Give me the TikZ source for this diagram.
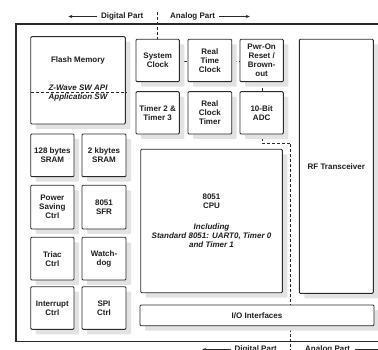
\documentclass[tikz,border=0pt]{standalone}
\usepackage{fontspec}
\setmainfont{Liberation Sans}
\usetikzlibrary{shadows,arrows.meta}

\definecolor{edge}{HTML}{2A2A2A}
\definecolor{shade}{HTML}{E2E2E2}
\definecolor{ink}{HTML}{1E1E1E}

% block given by its corners: name, x1, y1, x2, y2, text
\newcommand\chipblock[6]{%
  \node[blk, minimum width={(#4-#2)*1pt}, minimum height={(#5-#3)*1pt}]
    (#1) at ({(#2+#4)/2},{(#3+#5)/2}) {#6};}

\begin{document}
\begin{tikzpicture}[x=1pt,y=-1pt,
  font=\fontsize{8}{9}\selectfont\bfseries, text=ink,
  blk/.style={draw=edge, line width=0.9pt, fill=white, rounded corners=1pt,
    align=center, inner sep=0pt, outer sep=0pt,
    drop shadow={shadow xshift=5pt, shadow yshift=-5pt, fill=shade, opacity=1}},
  divider/.style={draw=edge, line width=0.8pt, dash pattern=on 3pt off 2pt},
  frame/.style={draw=edge, line width=1.3pt},
  side/.style={inner sep=0pt},
  arr/.style={draw=edge, line width=0.8pt, -{Stealth[length=4pt,width=3.2pt]}}]

\fill[white] (0,0) rectangle (378,350);
\useasboundingbox (0,0) rectangle (378,350);

% chip outline
\draw[frame] (16,24) rectangle (384,341.7);

% boundary between digital and analog parts
\coordinate (dtopend) at (157.3,12.5);
\coordinate (dbotend) at (290.7,354);
\draw[divider] (dtopend) -- (157.3,61) -- (262,61) -- (262,143) -- (290.7,143) -- (dbotend);

% part labels, top
\node[side, anchor=east] (digtop) at (143.5,16.5) {Digital Part};
\node[side, anchor=west] (anatop) at (170,16.5) {Analog Part};
\draw[arr] ([xshift=-3.5pt]digtop.west) -- ++(-29,0) coordinate (digtoptip);
\draw[arr] ([xshift=3.5pt]anatop.east) -- ++(31,0) coordinate (anatoptip);

% part labels, bottom
\node[side, anchor=east] (digbot) at (277,349.5) {Digital Part};
\node[side, anchor=west] (anabot) at (305,349.5) {Analog Part};
\draw[arr] ([xshift=-3pt]digbot.west) -- ++(-29,0) coordinate (digbottip);
\draw[arr] ([xshift=5pt]anabot.east) -- ++(31,0) coordinate (anabottip);

% memory
\chipblock{flash}{30.7}{36.7}{125.3}{124}{}
\node[side] (flashtitle) at (78,60) {Flash Memory};
\draw[divider] ([xshift=0.5pt]flash.west |- 0,92.3) -- ([xshift=1.5pt]flash.east |- 0,92.3);
\node[side, align=center] (flashsw) at (78,93.3)
  {\itshape Z-Wave SW API\\\itshape Application SW};

% clocks and converters
\chipblock{sysclk}{136}{39.3}{179.3}{81.7}{System\\Clock}
\chipblock{rtc}{188}{39.3}{231.7}{81.7}{Real\\Time\\Clock}
\chipblock{pwr}{240}{39.3}{283.3}{81.7}{Pwr-On\\Reset /\\Brown-\\out}
\chipblock{tmr}{136}{91.7}{179.3}{134}{Timer 2 \&\\Timer 3}
\chipblock{rct}{188}{91.7}{231.7}{134}{Real\\Clock\\Timer}
\chipblock{adc}{240}{91.7}{283.3}{134}{10-Bit\\ADC}

% radio
\chipblock{rf}{299.3}{39.3}{373.3}{293.3}{RF Transceiver}

% left column
\chipblock{sram}{30.7}{134}{74}{176.7}{128 bytes\\SRAM}
\chipblock{xram}{82}{134}{126}{176.7}{2 kbytes\\SRAM}
\chipblock{psave}{30.7}{185.3}{74}{229}{Power\\Saving\\Ctrl}
\chipblock{sfr}{82}{185.3}{126}{229}{8051\\SFR}
\chipblock{triac}{30.7}{237.3}{74}{280}{Triac\\Ctrl}
\chipblock{wdog}{82}{237.3}{126}{280}{Watch-\\dog}
\chipblock{intr}{30.7}{286.7}{74}{329.3}{Interrupt\\Ctrl}
\chipblock{spi}{82}{286.7}{126}{329.3}{SPI\\Ctrl}

% processor and I/O
\chipblock{cpu}{140.7}{149.3}{282.3}{292.7}{8051\\CPU\\[12pt]\itshape Including\\\itshape Standard 8051: UART0, Timer 0\\\itshape and Timer 1}
\chipblock{io}{140}{305}{374}{325.7}{I/O Interfaces}

\end{tikzpicture}
\end{document}
